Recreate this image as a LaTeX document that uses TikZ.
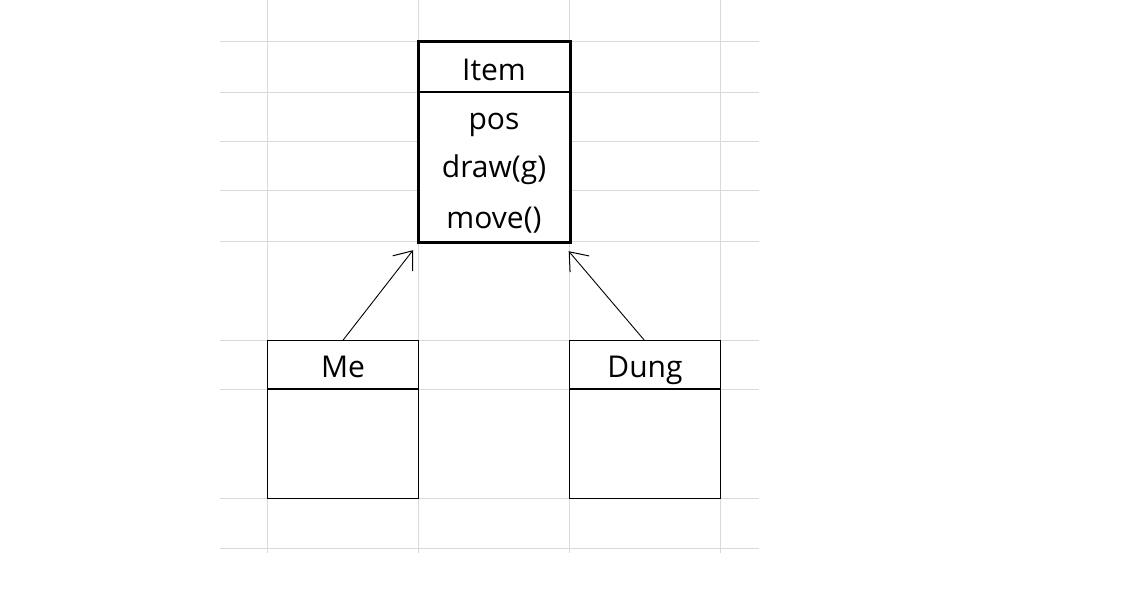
\documentclass[tikz,border=0pt]{standalone}
\usepackage{fontspec}
\setmainfont{Open Sans}
\usetikzlibrary{arrows.meta,calc}
\definecolor{gridc}{HTML}{DADADA}
\begin{document}
\begin{tikzpicture}[x=1pt,y=-1pt,
  gridline/.style={draw=gridc,line width=1pt},
  classbox/.style={draw=black,line width=1.3pt,minimum width=151pt,inner sep=0pt,anchor=north west},
  thickbox/.style={classbox,line width=2.2pt},
  lbl/.style={font=\fontsize{30}{36}\selectfont,inner sep=0pt,anchor=base},
  inherit/.style={draw=black,line width=0.9pt,-{Straight Barb[length=16pt,width=25pt,line width=1pt]}}]
\useasboundingbox (0,0) rectangle (1141,616);
% spreadsheet grid
\foreach \yy in {41,92,141,190,241,340,389,498,548}
  \draw[gridline] (220,\yy) -- (759,\yy);
\foreach \xx in {267,418,569,720}
  \draw[gridline] (\xx,0) -- (\xx,553);
% class boxes
\node[thickbox,minimum width=150.5pt,minimum height=200pt,fill=white] (item) at (418,41) {};
\node[classbox,minimum height=158pt,fill=white] (me) at (267,340) {};
\node[classbox,minimum height=158pt,fill=white] (dung) at (569,340) {};
% dividers
\draw[line width=2pt] ($(item.north west)+(0,51)$) -- ($(item.north east)+(0,51)$);
\draw[line width=1.3pt] ($(me.north west)+(0,49)$) -- ($(me.north east)+(0,49)$);
\draw[line width=1.3pt] ($(dung.north west)+(0,49)$) -- ($(dung.north east)+(0,49)$);
\draw[line width=2.2pt] (item.north west) rectangle (item.south east);
% texts
\node[lbl] (itemname) at (494,80) {Item};
\node[lbl] (pos) at (494,129) {pos};
\node[lbl] (drawg) at (494,177) {draw(g)};
\node[lbl] (move) at (494,228) {move()};
\node[lbl] (mename) at (343,377) {Me};
\node[lbl] (dungname) at (645,377) {Dung};
% arrow targets
\coordinate (tipL) at ($(item.south west)+(-5,7)$);
\coordinate (tipR) at ($(item.south east)+(-2,8)$);
\draw[inherit] (me.north) -- (tipL);
\draw[inherit] ($(dung.north)+(-1,0)$) -- (tipR);
\end{tikzpicture}
\end{document}
